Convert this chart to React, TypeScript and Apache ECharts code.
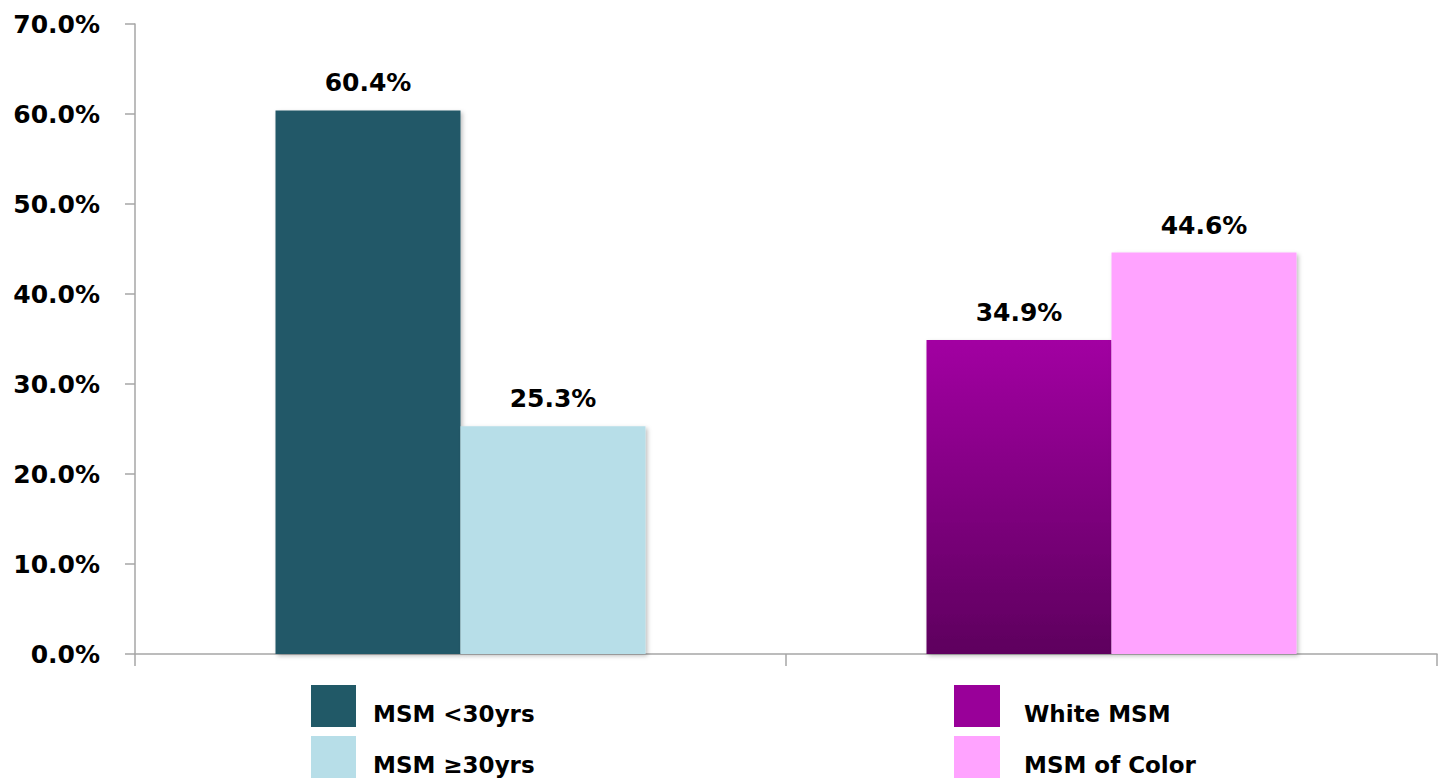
import React, { useEffect, useRef } from "react";
import * as echarts from "echarts";

const categories = ["Age", "Race"];
const msmUnder30 = [60.4, "-"];
const msmOver30 = [25.3, "-"];
const whiteMsm = ["-", 34.9];
const msmOfColor = ["-", 44.6];
const yTicks = [0, 10, 20, 30, 40, 50, 60, 70];

const FONT = "DejaVu Sans";

export default function App() {
  const ref = useRef<HTMLDivElement>(null);
  useEffect(() => {
    if (!ref.current) return;
    const chart = echarts.init(ref.current, null, { renderer: "svg" });
    const labelCfg = {
      show: true,
      position: "top",
      distance: 15,
      fontFamily: FONT,
      fontWeight: "bold",
      fontSize: 25,
      color: "#000",
      formatter: (p: any) => Number(p.value).toFixed(1) + "%",
    };
    const shadow = {
      shadowColor: "rgba(0,0,0,0.25)",
      shadowBlur: 4,
      shadowOffsetX: 2,
      shadowOffsetY: 2,
    };
    const legendText = (padLeft: number) => ({
      fontFamily: FONT,
      fontWeight: "bold",
      fontSize: 23,
      color: "#000",
      rich: {
        t: {
          fontFamily: FONT,
          fontWeight: "bold",
          fontSize: 23,
          color: "#000",
          padding: [16, 0, 0, padLeft],
        },
      },
    });
    chart.setOption({
      animation: false,
      backgroundColor: "#fff",
      grid: { left: 135, right: 5, top: 24, bottom: 124, containLabel: false },
      xAxis: {
        type: "category",
        data: categories,
        boundaryGap: true,
        axisLine: { show: true, lineStyle: { color: "#a6a6a6", width: 1.5 } },
        axisTick: { show: true, length: 12, lineStyle: { color: "#a6a6a6", width: 1.5 } },
        axisLabel: { show: false },
      },
      yAxis: {
        type: "value",
        min: 0,
        max: yTicks[yTicks.length - 1],
        interval: yTicks[1] - yTicks[0],
        axisLine: { show: true, lineStyle: { color: "#a6a6a6", width: 1.5 } },
        axisTick: { show: true, length: 10, lineStyle: { color: "#a6a6a6", width: 1.5 } },
        splitLine: { show: false },
        axisLabel: {
          margin: 35,
          fontFamily: FONT,
          fontWeight: "bold",
          fontSize: 25,
          color: "#000",
          formatter: (v: number) => v.toFixed(1) + "%",
        },
      },
      legend: [
        {
          orient: "vertical",
          left: 311,
          top: 685,
          padding: 0,
          itemWidth: 45,
          itemHeight: 42,
          itemGap: 9,
          icon: "rect",
          selectedMode: false,
          formatter: (name: string) => "{t|" + name + "}",
          textStyle: legendText(12),
          data: [{ name: "MSM <30yrs" }, { name: "MSM ≥30yrs" }],
        },
        {
          orient: "vertical",
          left: 954,
          top: 685,
          padding: 0,
          itemWidth: 46,
          itemHeight: 42,
          itemGap: 9,
          icon: "rect",
          selectedMode: false,
          formatter: (name: string) => "{t|" + name + "}",
          textStyle: legendText(19),
          data: [
            { name: "White MSM", itemStyle: { color: "#990099" } },
            { name: "MSM of Color" },
          ],
        },
      ],
      series: [
        {
          name: "MSM <30yrs",
          type: "bar",
          stack: "a",
          barWidth: 185,
          barGap: "0%",
          data: msmUnder30,
          itemStyle: { color: "#215967", ...shadow },
          label: labelCfg,
        },
        {
          name: "MSM ≥30yrs",
          type: "bar",
          stack: "b",
          barWidth: 185,
          barGap: "0%",
          data: msmOver30,
          itemStyle: { color: "#b7dee8", ...shadow },
          label: labelCfg,
        },
        {
          name: "White MSM",
          type: "bar",
          stack: "a",
          barWidth: 185,
          barGap: "0%",
          data: whiteMsm,
          itemStyle: {
            color: new echarts.graphic.LinearGradient(0, 0, 0, 1, [
              { offset: 0, color: "#a200a2" },
              { offset: 1, color: "#5e005e" },
            ]),
            ...shadow,
          },
          label: labelCfg,
        },
        {
          name: "MSM of Color",
          type: "bar",
          stack: "b",
          barWidth: 185,
          barGap: "0%",
          data: msmOfColor,
          itemStyle: { color: "#ffa3ff", ...shadow },
          label: labelCfg,
        },
      ],
    });
    return () => chart.dispose();
  }, []);
  return (
    <div
      ref={ref}
      style={{ position: "fixed", left: 0, top: 0, width: 1442, height: 778 }}
    />
  );
}
